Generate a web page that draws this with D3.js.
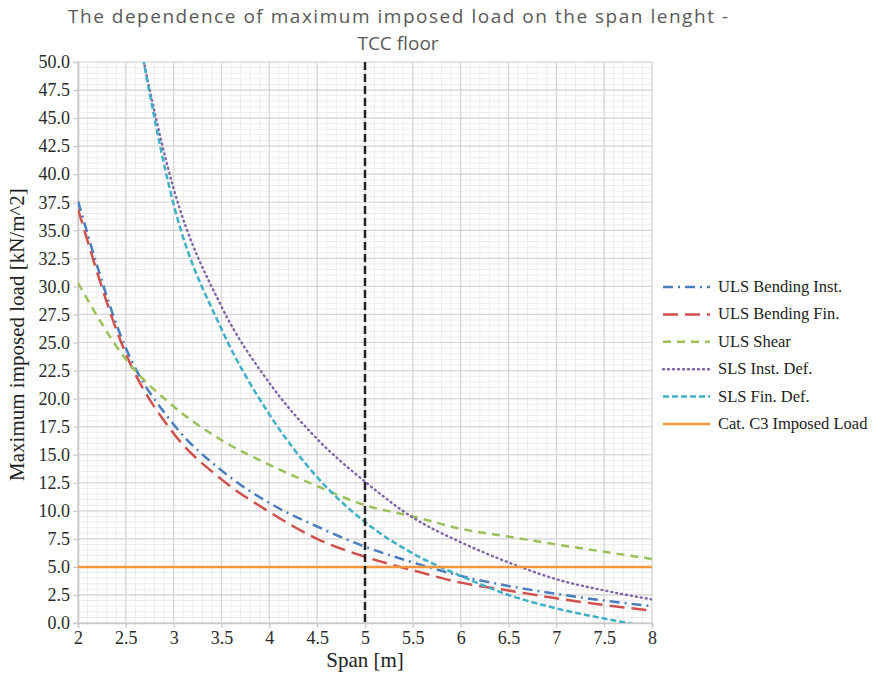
<!DOCTYPE html>
<html>
<head>
<meta charset="utf-8">
<script src="https://cdn.jsdelivr.net/npm/d3@7"></script>
<style>
  body { margin: 0; background: #fff; }
  .tick text { font-family: "Liberation Serif", serif; font-size: 18px; fill: #2a2a2a; }
</style>
</head>
<body>
<svg id="chart" width="885" height="673"></svg>
<script>
  // span [m]
  var spans = [2, 2.5, 3, 3.5, 4, 4.5, 5, 5.5, 6, 6.5, 7, 7.5, 8];

  var ulsBendingInst = [37.6, 24.5, 17.7, 13.6, 10.7, 8.6, 6.8, 5.4, 4.2, 3.3, 2.6, 2.0, 1.5];
  var ulsBendingFin  = [36.9, 24.0, 16.9, 12.8, 9.9, 7.5, 5.9, 4.7, 3.6, 2.9, 2.2, 1.6, 1.1];
  var ulsShear       = [30.3, 23.5, 19.3, 16.3, 14.1, 12.2, 10.5, 9.5, 8.4, 7.7, 7.0, 6.35, 5.7];
  // SLS curves start above the axis maximum
  var slsInstDef     = [null, 58, 38.7, 28.2, 21.4, 16.4, 12.6, 9.4, 7.2, 5.4, 3.9, 2.9, 2.1];
  var slsFinDef      = [null, 59, 37.3, 26.2, 18.6, 13.0, 9.0, 6.2, 4.2, 2.5, 1.3, 0.4, -0.4];
  var catC3Load      = [5, 5, 5, 5, 5, 5, 5, 5, 5, 5, 5, 5, 5];

  var markerSpan = 5;

  var xTicks = [2, 2.5, 3, 3.5, 4, 4.5, 5, 5.5, 6, 6.5, 7, 7.5, 8];
  var yTicks = d3.range(0, 50.01, 2.5);

  var series = [
    {name: 'ULS Bending Inst.', values: ulsBendingInst, color: '#4a7ebf', dash: '10,5,2,5', width: 2.5},
    {name: 'ULS Bending Fin.', values: ulsBendingFin, color: '#d0504c', dash: '15,7', width: 2.5},
    {name: 'ULS Shear', values: ulsShear, color: '#9bc15a', dash: '8,6', width: 2.5},
    {name: 'SLS Inst. Def.', values: slsInstDef, color: '#8064a8', dash: '1,4', width: 2.4},
    {name: 'SLS Fin. Def.', values: slsFinDef, color: '#40b0c8', dash: '6,3', width: 2.5},
    {name: 'Cat. C3 Imposed Load', values: catC3Load, color: '#f7963e', dash: null, width: 2.5}
  ];

  var svg = d3.select('#chart'),
      margin = {top: 62, right: 233, bottom: 50, left: 78},
      width = +svg.attr('width') - margin.left - margin.right,
      height = +svg.attr('height') - margin.top - margin.bottom,
      g = svg.append('g').attr('transform', 'translate(' + margin.left + ',' + margin.top + ')');

  var x = d3.scaleLinear().domain([2, 8]).range([0, width]);
  var y = d3.scaleLinear().domain([0, 50]).range([height, 0]);

  // minor grid
  g.append('g')
    .selectAll('line')
    .data(d3.range(2, 8.001, 0.1))
    .enter().append('line')
      .attr('x1', function (d) { return x(d); })
      .attr('x2', function (d) { return x(d); })
      .attr('y1', 0).attr('y2', height)
      .attr('stroke', '#ececec').attr('stroke-width', 1);
  g.append('g')
    .selectAll('line')
    .data(d3.range(0, 50.001, 0.5))
    .enter().append('line')
      .attr('x1', 0).attr('x2', width)
      .attr('y1', function (d) { return y(d); })
      .attr('y2', function (d) { return y(d); })
      .attr('stroke', '#ececec').attr('stroke-width', 1);

  // major grid
  g.append('g')
    .selectAll('line')
    .data(xTicks)
    .enter().append('line')
      .attr('x1', function (d) { return x(d); })
      .attr('x2', function (d) { return x(d); })
      .attr('y1', 0).attr('y2', height)
      .attr('stroke', '#d6d6d6').attr('stroke-width', 1.2);
  g.append('g')
    .selectAll('line')
    .data(yTicks)
    .enter().append('line')
      .attr('x1', 0).attr('x2', width)
      .attr('y1', function (d) { return y(d); })
      .attr('y2', function (d) { return y(d); })
      .attr('stroke', '#d6d6d6').attr('stroke-width', 1.2);

  // axes
  var xAxis = g.append('g')
      .attr('transform', 'translate(0,' + height + ')')
      .call(d3.axisBottom(x).tickValues(xTicks).tickSize(5).tickPadding(3).tickFormat(d3.format('')));
  var yAxis = g.append('g')
      .call(d3.axisLeft(y).tickValues(yTicks).tickSize(5).tickPadding(3).tickFormat(d3.format('.1f')));
  [xAxis, yAxis].forEach(function (a) {
    a.select('.domain').attr('stroke', '#c8c8c8').attr('stroke-width', 1.5);
    a.selectAll('.tick line').attr('stroke', '#c8c8c8').attr('stroke-width', 1.2);
  });

  g.append('defs').append('clipPath').attr('id', 'plotclip')
    .append('rect').attr('width', width).attr('height', height);

  var line = d3.line()
      .defined(function (d) { return d.value !== null; })
      .x(function (d) { return x(d.span); })
      .y(function (d) { return y(d.value); })
      .curve(d3.curveMonotoneX);

  var lines = g.append('g').attr('clip-path', 'url(#plotclip)');
  series.forEach(function (s) {
    var pts = spans.map(function (sp, i) { return {span: sp, value: s.values[i]}; });
    lines.append('path')
      .attr('d', line(pts))
      .attr('fill', 'none')
      .attr('stroke', s.color)
      .attr('stroke-width', s.width)
      .attr('stroke-dasharray', s.dash)
      .attr('stroke-linecap', s.name === 'SLS Inst. Def.' ? 'round' : 'butt');
  });

  // vertical marker at 5 m
  g.append('line')
    .attr('x1', x(markerSpan)).attr('x2', x(markerSpan))
    .attr('y1', 0).attr('y2', height)
    .attr('stroke', '#222').attr('stroke-width', 2.5)
    .attr('stroke-dasharray', '8,4');

  // titles
  svg.append('text')
    .attr('x', 398).attr('y', 23)
    .attr('text-anchor', 'middle')
    .style('font-family', '"Open Sans", sans-serif')
    .style('font-size', '19px')
    .style('fill', '#595959')
    .attr('textLength', 660)
    .text('The dependence of maximum imposed  load on the span lenght -');
  svg.append('text')
    .attr('x', 398).attr('y', 50)
    .attr('text-anchor', 'middle')
    .style('font-family', '"Open Sans", sans-serif')
    .style('font-size', '19px')
    .style('fill', '#595959')
    .text('TCC floor');

  svg.append('text')
    .attr('x', margin.left + x(5)).attr('y', 667)
    .attr('text-anchor', 'middle')
    .style('font-family', '"Liberation Serif", serif')
    .style('font-size', '21px')
    .style('fill', '#222')
    .text('Span [m]');

  svg.append('text')
    .attr('transform', 'translate(24,' + (margin.top + height / 2 - 8) + ') rotate(-90)')
    .attr('text-anchor', 'middle')
    .style('font-family', '"Liberation Serif", serif')
    .style('font-size', '21px')
    .style('fill', '#222')
    .text('Maximum imposed load [kN/m^2]');

  // legend
  var legend = svg.append('g').attr('transform', 'translate(663,287)');
  series.forEach(function (s, i) {
    var row = legend.append('g').attr('transform', 'translate(0,' + (i * 27.4) + ')');
    row.append('line')
      .attr('x1', 0).attr('x2', 47).attr('y1', 0).attr('y2', 0)
      .attr('stroke', s.color)
      .attr('stroke-width', s.width)
      .attr('stroke-dasharray', s.dash)
      .attr('stroke-linecap', s.name === 'SLS Inst. Def.' ? 'round' : 'butt');
    row.append('text')
      .attr('x', 55).attr('y', 5)
      .style('font-family', '"Liberation Serif", serif')
      .style('font-size', '16.5px')
      .style('fill', '#222')
      .text(s.name);
  });
</script>
</body>
</html>
